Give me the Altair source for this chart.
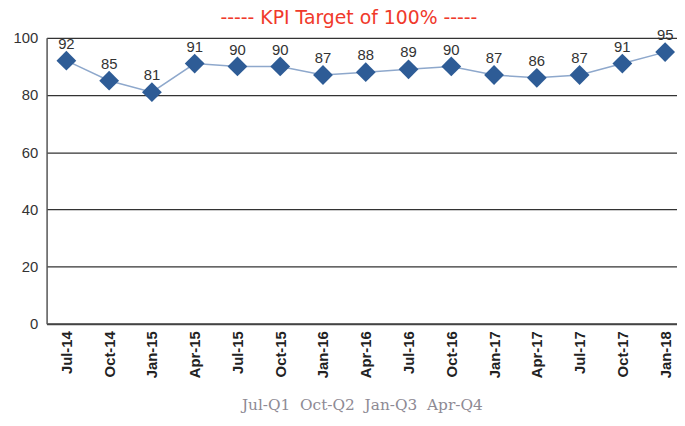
import altair as alt
import pandas as pd

months = ["Jul-14", "Oct-14", "Jan-15", "Apr-15", "Jul-15", "Oct-15", "Jan-16", "Apr-16",
          "Jul-16", "Oct-16", "Jan-17", "Apr-17", "Jul-17", "Oct-17", "Jan-18"]
kpi = [92, 85, 81, 91, 90, 90, 87, 88, 89, 90, 87, 86, 87, 91, 95]
y_ticks = [0, 20, 40, 60, 80, 100]

df = pd.DataFrame({"month": months, "kpi": kpi})

x = alt.X(
    "month:N",
    sort=months,
    scale=alt.Scale(type="point", padding=0.37, align=0.625),
    axis=alt.Axis(
        title="Jul-Q1\u00a0\u00a0Oct-Q2\u00a0\u00a0Jan-Q3\u00a0\u00a0Apr-Q4",
        labelAngle=-90,
        labelFont="Liberation Sans",
        labelFontSize=15,
        labelFontWeight="bold",
        labelColor="#222222",
        labelPadding=7,
        ticks=False,
        domainColor="#444444",
        domainWidth=2,
        titleFont="DejaVu Serif",
        titleFontSize=15.5,
        titleFontWeight="normal",
        titleColor="#8e8a94",
        titlePadding=20,
        grid=False,
    ),
)
y = alt.Y(
    "kpi:Q",
    scale=alt.Scale(domain=[0, 100]),
    axis=alt.Axis(
        values=y_ticks,
        title=None,
        grid=True,
        gridColor="#333333",
        gridWidth=1.3,
        domainColor="#555555",
        domainWidth=1.5,
        ticks=False,
        labelFont="Liberation Sans",
        labelFontSize=15,
        labelColor="#333333",
        labelPadding=9,
    ),
)

base = alt.Chart(df).encode(x=x, y=y)
line = base.mark_line(color="#8ea8cc", strokeWidth=1.5)
pts = base.mark_point(shape="diamond", filled=True, size=400, color="#2e5c96", opacity=1)
labels = base.mark_text(dy=-17, fontSize=15, color="#333333", font="Liberation Sans").encode(text="kpi:Q")

chart = (
    alt.layer(line, pts, labels)
    .properties(
        width=637,
        height=289,
        autosize=alt.AutoSizeParams(type="none"),
        padding={"left": 39, "top": 28, "right": 0, "bottom": 90},
        title=alt.TitleParams(
            "----- KPI Target of 100% -----",
            color="#f0392b",
            fontSize=19,
            font="DejaVu Sans",
            fontWeight="normal",
            frame="group",
            offset=0,
            dx=-13,
        ),
    )
    .configure_view(stroke=None)
)

chart.save("out.html", embed_options={"renderer": "svg", "actions": False})
